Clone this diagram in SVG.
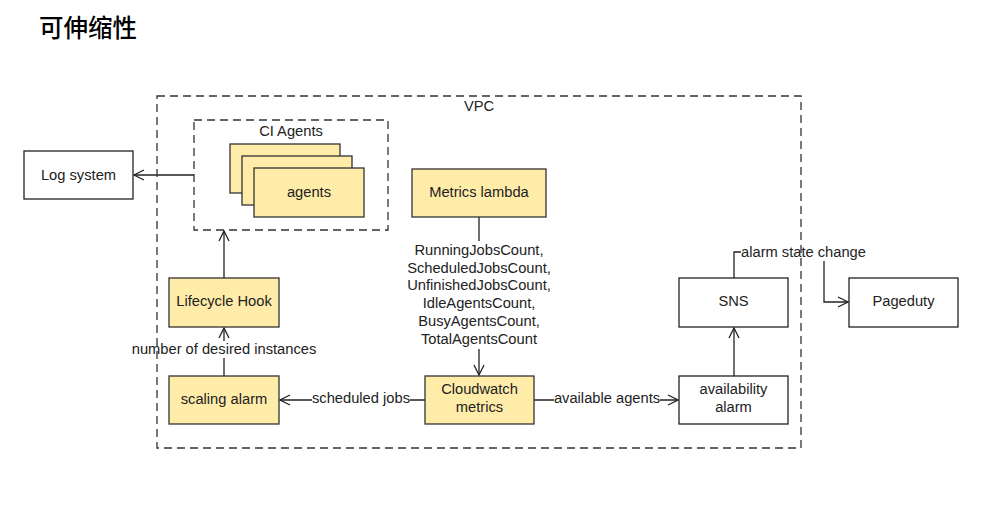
<svg xmlns="http://www.w3.org/2000/svg" width="991" height="519" viewBox="0 0 991 519">
<style>
text{font-family:"Liberation Sans",Arial,sans-serif;font-size:14.7px;fill:#222;text-anchor:middle}
.y{fill:#FFECA9;stroke:#333;stroke-width:1.3}
.w{fill:#fff;stroke:#222;stroke-width:1.3}
.dash{fill:none;stroke:#333;stroke-width:1.3;stroke-dasharray:8 5}
.c{fill:none;stroke:#222;stroke-width:1.3}
.bg{fill:#fff}
</style>
<defs>
<marker id="a" viewBox="0 0 12 12" refX="11" refY="6" markerWidth="12" markerHeight="12" markerUnits="userSpaceOnUse" orient="auto">
<polyline points="1,1 11,6 1,11" fill="none" stroke="#222" stroke-width="1.3"/>
</marker>
</defs>
<rect width="991" height="519" fill="#fff"/>
<text x="39" y="37" style="font-family:'Noto Sans CJK SC',sans-serif;font-size:24.5px;font-weight:500;text-anchor:start;fill:#000">可伸缩性</text>

<g id="connectors">
<path class="c" d="M194,175 H134" marker-end="url(#a)"/>
<path class="c" d="M224,278 V231" marker-end="url(#a)"/>
<path class="c" d="M224,376 V328" marker-end="url(#a)"/>
<path class="c" d="M479,217 V241 M479,349 V375" marker-end="url(#a)"/>
<path class="c" d="M425,400 H280" marker-end="url(#a)"/>
<path class="c" d="M534,400 H678" marker-end="url(#a)"/>
<path class="c" d="M734,376 V328" marker-end="url(#a)"/>
<path class="c" d="M734,278 V252 H824 V302 H848" marker-end="url(#a)"/>
<g id="labels">
<rect class="bg" x="132" y="341" width="185" height="17"/>
<text x="224" y="354">number of desired instances</text>
<rect class="bg" x="312" y="391" width="98" height="17"/>
<text x="361" y="403">scheduled jobs</text>
<rect class="bg" x="554" y="391" width="106" height="17"/>
<text x="607" y="403">available agents</text>
<rect class="bg" x="741" y="243" width="125" height="18"/>
<text x="803.5" y="257">alarm state change</text>
<rect class="bg" x="405" y="241" width="148" height="108"/>
<text x="479" y="255">RunningJobsCount,</text>
<text x="479" y="273">ScheduledJobsCount,</text>
<text x="479" y="290">UnfinishedJobsCount,</text>
<text x="479" y="308">IdleAgentsCount,</text>
<text x="479" y="326">BusyAgentsCount,</text>
<text x="479" y="344">TotalAgentsCount</text>
</g>
</g>

<g id="ci-agents">
<rect class="dash" x="194" y="120" width="194" height="110"/>
<text x="291" y="136">CI Agents</text>
</g>
<g id="agents">
<rect class="y" x="230" y="144" width="110" height="49"/>
<rect class="y" x="242" y="156" width="110" height="49"/>
<rect class="y" x="254" y="168" width="110" height="49"/>
<text x="309" y="197">agents</text>
</g>
<g id="log-system">
<rect class="w" x="24" y="151" width="109" height="48"/>
<text x="78.5" y="180">Log system</text>
</g>
<g id="metrics-lambda">
<rect class="y" x="412" y="169" width="134" height="48"/>
<text x="479" y="197">Metrics lambda</text>
</g>
<g id="lifecycle-hook">
<rect class="y" x="169" y="278" width="110" height="49"/>
<text x="224" y="306">Lifecycle Hook</text>
</g>
<g id="scaling-alarm">
<rect class="y" x="169" y="376" width="110" height="48"/>
<text x="224" y="404">scaling alarm</text>
</g>
<g id="cloudwatch-metrics">
<rect class="y" x="425" y="376" width="109" height="48"/>
<text x="479.5" y="394">Cloudwatch</text>
<text x="479.5" y="412">metrics</text>
</g>
<g id="availability-alarm">
<rect class="w" x="679" y="376" width="109" height="48"/>
<text x="733.5" y="394">availability</text>
<text x="733.5" y="412">alarm</text>
</g>
<g id="sns">
<rect class="w" x="679" y="278" width="109" height="49"/>
<text x="733.5" y="306">SNS</text>
</g>
<g id="pageduty">
<rect class="w" x="849" y="278" width="109" height="49"/>
<text x="903.5" y="306">Pageduty</text>
</g>
<g id="vpc">
<rect class="dash" x="157" y="96" width="644" height="352"/>
<text x="479" y="111">VPC</text>
</g>
</svg>
